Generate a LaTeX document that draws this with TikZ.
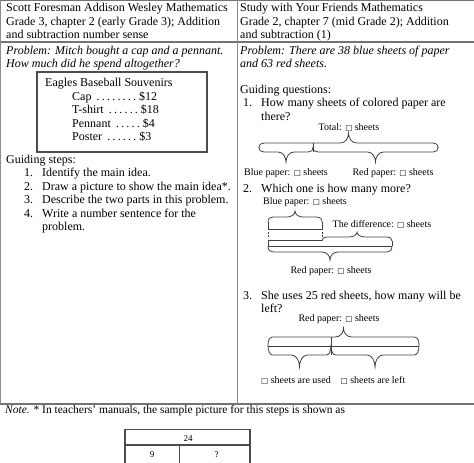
\documentclass[tikz,border=0pt]{standalone}
\usepackage{fontspec}
\setmainfont{Liberation Serif}
\newfontfamily\symf{DejaVu Sans}
\newcommand\bx{{\symf\fontsize{7.5}{8}\selectfont □}}
\newcommand\dt{\kern2.2pt.}
% curly brace: x1<x2, yend, yarm, ytip
\newcommand\cbrace[5]{(#1,#3) .. controls (#1,{#4+0.3*(#3-#4)}) and ({#1+2},#4) .. ({#1+5},#4) -- ({(#1+#2)/2-8},#4) .. controls ({(#1+#2)/2-3},#4) and ({(#1+#2)/2},{#4+0.5*(#5-#4)}) .. ({(#1+#2)/2},#5) .. controls ({(#1+#2)/2},{#4+0.5*(#5-#4)}) and ({(#1+#2)/2+3},#4) .. ({(#1+#2)/2+8},#4) -- ({#2-5},#4) .. controls ({#2-2},#4) and (#2,{#4+0.3*(#3-#4)}) .. (#2,#3)}
\tikzset{
 T/.style={anchor=base west, inner sep=0pt, font=\fontsize{12}{14}\selectfont},
 TI/.style={anchor=base west, inner sep=0pt, font=\fontsize{12}{14}\selectfont\itshape},
 S/.style={anchor=base, inner sep=0pt, font=\fontsize{10}{12}\selectfont},
 rule/.style={draw=black!55, line width=1.4pt},
 thinrule/.style={draw=black!45, line width=0.6pt},
 boxline/.style={draw=black!70, line width=1.2pt},
 tape/.style={draw=black!75, line width=0.8pt},
}
\begin{document}
\begin{tikzpicture}[x=1pt,y=-1pt]
\useasboundingbox (0,0) rectangle (474,463);
% table rules
\draw[rule] (0,0.7) -- (474,0.7);
\draw[rule] (0,42) -- (474,42);
\draw[rule] (0,404) -- (474,404);
\draw[thinrule] (237,0) -- (237,404);
\draw[thinrule] (0.5,0) -- (0.5,404);
% left column
\node[T] (lh1) at (6,11.5) {Scott Foresman Addison Wesley Mathematics};
\node[T] (lh2) at (6,25) {Grade 3, chapter 2 (early Grade 3); Addition};
\node[T] (lh3) at (6,38.5) {and subtraction number sense};
\node[TI] (lp1) at (6,54) {Problem: Mitch bought a cap and a pennant.};
\node[TI] (lp2) at (6,67.5) {How much did he spend altogether?};
\draw[boxline] (37,72) rectangle (207,152);
\node[T] (sv) at (45,86) {Eagles Baseball Souvenirs};
\node[T] (sv1) at (72,100) {Cap\ \dt\dt\dt\dt\dt\dt\dt\dt\ \$12};
\node[T] (sv2) at (72,113.5) {T-shirt\ \dt\dt\dt\dt\dt\dt\ \$18};
\node[T] (sv3) at (72,127) {Pennant\ \dt\dt\dt\dt\dt\ \$4};
\node[T] (sv4) at (72,140.5) {Poster\ \dt\dt\dt\dt\dt\dt\ \$3};
\node[T] (gs) at (6,163.5) {Guiding steps:};
\node[T] (n1) at (24,176.5) {1.};
\node[T] (s1) at (42,176.5) {Identify the main idea.};
\node[T] (n2) at (24,190) {2.};
\node[T] (s2) at (42,190) {Draw a picture to show the main idea*.};
\node[T] (n3) at (24,203.5) {3.};
\node[T] (s3) at (42,203.5) {Describe the two parts in this problem.};
\node[T] (n4) at (24,217) {4.};
\node[T] (s4) at (42,217) {Write a number sentence for the};
\node[T] (s4b) at (42,230.5) {problem.};
% right column
\node[T] (rh1) at (240,11.5) {Study with Your Friends Mathematics};
\node[T] (rh2) at (240,25) {Grade 2, chapter 7 (mid Grade 2); Addition};
\node[T] (rh3) at (240,38.5) {and subtraction (1)};
\node[TI] (rp1) at (240,54) {Problem: There are 38 blue sheets of paper};
\node[TI] (rp2) at (240,67.5) {and 63 red sheets.};
\node[T] (gq) at (240,93) {Guiding questions:};
\node[T] (q1n) at (243,106.5) {1.};
\node[T] (q1) at (261,106.5) {How many sheets of colored paper are};
\node[T] (q1b) at (261,120) {there?};
% tape 1
\node[S] (tot) at (349,130) {Total: \bx\ sheets};
\draw[tape] \cbrace{259}{438}{148}{143}{133};
\draw[tape] \cbrace{259}{313}{147}{152}{162};
\draw[tape] \cbrace{313}{438}{147}{152}{162};
\draw[tape] (313,143) -- (313,152);
\node[S] (bp1) at (286,175) {Blue paper: \bx\ sheets};
\node[S] (rp1l) at (393,175) {Red paper: \bx\ sheets};
\node[T] (q2n) at (243,192) {2.};
\node[T] (q2) at (261,192) {Which one is how many more?};
% tape 2
\node[S] (bp2) at (305,204.5) {Blue paper: \bx\ sheets};
\draw[tape] \cbrace{268}{322}{222}{217}{211};
\draw[tape] (268,222) -- (268,229) -- (322,229) -- (322,222);
\draw[tape, dash pattern=on 1.5pt off 1.5pt] (268,232) -- (268,237);
\draw[tape, dash pattern=on 1.5pt off 1.5pt] (322,232) -- (322,237);
\node[S] (dif) at (382,227) {The difference: \bx\ sheets};
\draw[tape] (268,246) -- (268,240) -- (322,240);
\draw[tape] \cbrace{322}{392}{241}{237}{232};
\draw[tape] (392,241) -- (392,246);
\draw[tape] (268,246) -- (392,246);
\draw[tape] \cbrace{268}{392}{246}{252}{260};
\node[S] (rp2l) at (331,273.5) {Red paper: \bx\ sheets};
\node[T] (q3n) at (243,299.5) {3.};
\node[T] (q3) at (261,299.5) {She uses 25 red sheets, how many will be};
\node[T] (q3b) at (261,312.5) {left?};
% tape 3
\node[S] (rp3l) at (339,321.5) {Red paper: \bx\ sheets};
\draw[tape] \cbrace{268}{419}{345}{337}{328};
\draw[tape] (268,346) -- (419,346);
\draw[tape] \cbrace{268}{331}{345}{355}{367};
\draw[tape] \cbrace{331}{419}{345}{355}{367};
\draw[tape] (331,337) -- (331,355);
\node[S] (used) at (296,383) {\bx\ sheets are used};
\node[S] (left) at (373,383) {\bx\ sheets are left};
% note
\node[T, font=\fontsize{11.5}{13}\selectfont] (note) at (5,413) {\textit{Note.} * In teachers' manuals, the sample picture for this steps is shown as};
\draw[boxline] (125,470) -- (125,429.5) -- (250,429.5) -- (250,470);
\draw[boxline] (125,445) -- (250,445);
\draw[boxline] (179.5,445) -- (179.5,470);
\node[S, font=\fontsize{9}{10}\selectfont] (t24) at (188,441) {24};
\node[S, font=\fontsize{9}{10}\selectfont] (t9) at (152,457) {9};
\node[S, font=\fontsize{9}{10}\selectfont] (tq) at (216.5,457) {?};
\end{tikzpicture}
\end{document}
